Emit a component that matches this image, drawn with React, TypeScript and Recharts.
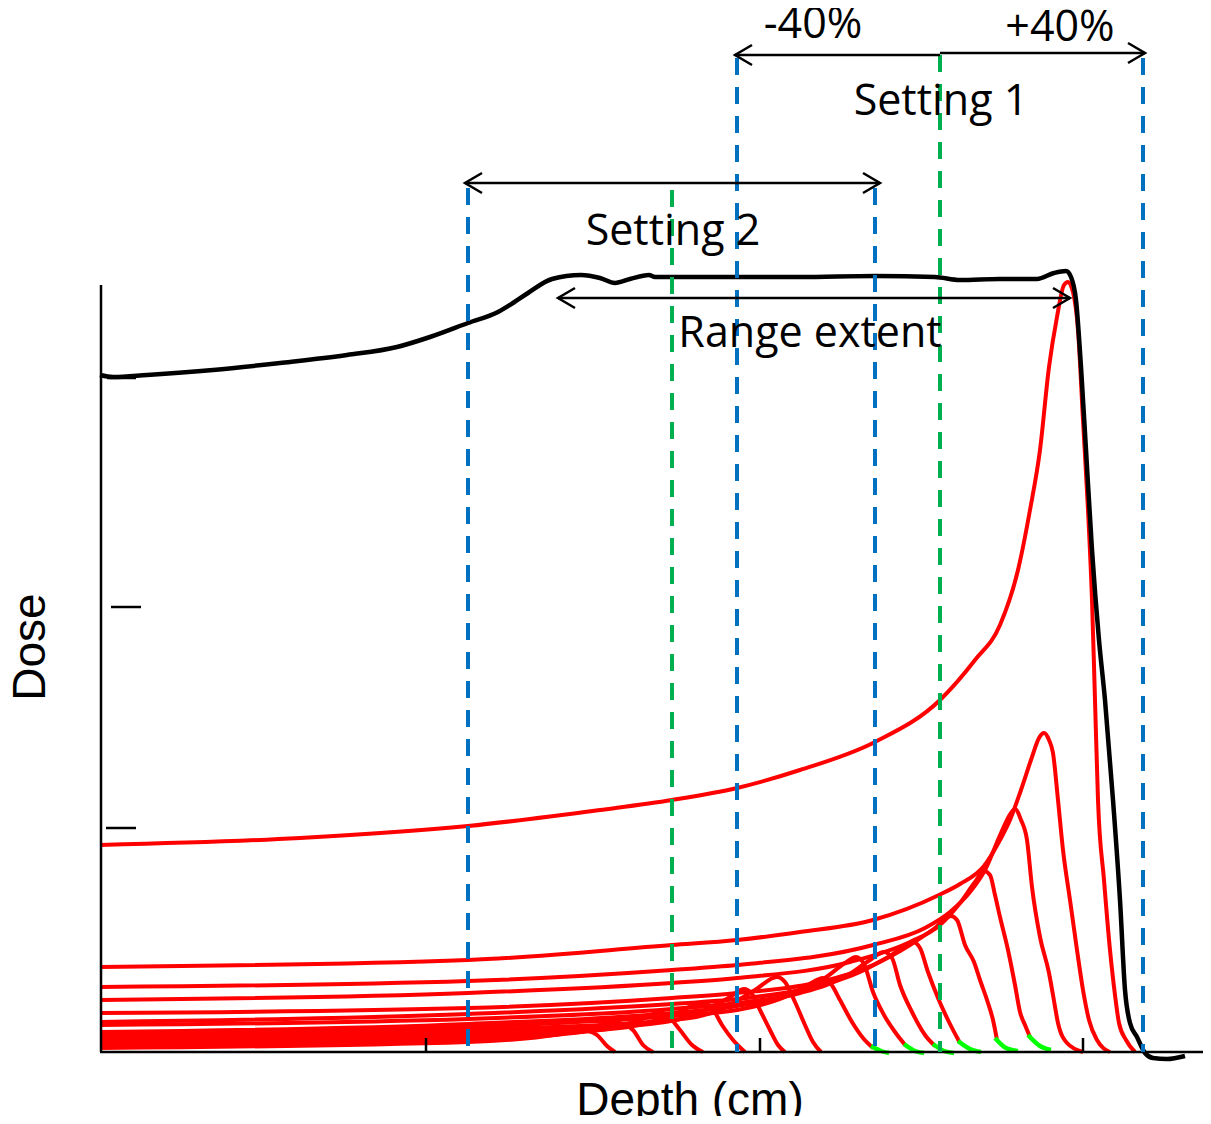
import { LineChart, Line, XAxis, YAxis, ReferenceLine, ReferenceDot } from "recharts"

type Pt = { depth: number; dose: number }
const p = (depth: number, dose: number): Pt => ({ depth, dose })

// total (spread-out) dose
const sobp: Pt[] = [
  p(0, 67.7), p(1.3, 67.5), p(4.7, 67.7), p(11.3, 68.2), p(18.0, 68.9), p(24.7, 69.7), p(29.7, 70.5),
  p(33.0, 71.5), p(36.8, 72.9), p(39.8, 74.0), p(41.3, 74.9), p(42.8, 75.9), p(45.2, 77.3), p(48.1, 77.7),
  p(50.0, 77.4), p(51.5, 76.9), p(53.0, 77.3), p(54.9, 77.7), p(55.5, 77.5), p(60.0, 77.5), p(70.0, 77.5),
  p(77.5, 77.6), p(83.5, 77.5), p(86.0, 77.2), p(90.0, 77.3), p(93.7, 77.3), p(95.4, 77.9), p(96.6, 78.1),
  p(97.1, 77.5), p(97.6, 75.2), p(98.1, 68.5), p(98.6, 60.2), p(99.2, 50.2), p(99.9, 41.2), p(100.5, 35.2),
  p(101.3, 25.2), p(102.0, 15.2), p(102.5, 6.2), p(103.0, 2.9), p(103.7, 1.5), p(104.5, -0.1), p(105.3, -0.6),
  p(106.7, -0.7), p(108.5, -0.4),
]

// pristine Bragg peaks, shallowest first
const bp1: Pt[] = [p(0, 0.4), p(36.8, 1.0), p(46.0, 1.8), p(47.8, 2.4), p(48.5, 2.2), p(49.7, 1.7), p(50.7, 0.6), p(51.5, 0)]
const bp2: Pt[] = [p(0, 0.5), p(36.8, 1.2), p(48.0, 2.0), p(51.5, 3.1), p(52.2, 2.8), p(53.3, 2.2), p(54.3, 0.7), p(55.3, 0)]
const bp3: Pt[] = [p(0, 0.7), p(36.8, 1.4), p(50.0, 2.2), p(54.0, 3.2), p(56.0, 4.0), p(56.8, 3.6), p(58.0, 2.2), p(59.2, 0.7), p(60.3, 0)]
const bp4: Pt[] = [p(0, 0.9), p(36.8, 1.6), p(52.0, 2.4), p(57.0, 3.6), p(60.3, 4.9), p(61.2, 4.4), p(62.2, 2.7), p(63.3, 1.2), p(64.5, 0)]
const bp5: Pt[] = [p(0, 1.2), p(36.8, 1.9), p(55.0, 2.8), p(60.0, 3.9), p(63.0, 5.5), p(64.4, 6.3), p(65.2, 5.8), p(66.0, 4.2), p(67.0, 2.2), p(67.8, 0.7), p(68.5, 0)]
const bp6: Pt[] = [p(0, 1.5), p(36.8, 2.2), p(57.2, 3.2), p(62.0, 4.2), p(65.5, 6.2), p(67.7, 7.5), p(68.5, 7.0), p(69.5, 5.0), p(70.5, 2.7), p(71.3, 1.0), p(72.1, 0)]
const bp7: Pt[] = [p(0, 1.7), p(36.8, 2.5), p(57.2, 3.6), p(63.7, 4.2), p(68.5, 5.5), p(70.8, 6.7), p(72.3, 7.4), p(73.1, 6.8), p(74.0, 5.2), p(75.2, 3.0), p(76.3, 1.4), p(77.3, 0.4)]
const bp8: Pt[] = [p(0, 2.0), p(36.8, 2.8), p(57.2, 3.9), p(63.7, 4.6), p(69.0, 5.7), p(72.5, 7.4), p(74.5, 8.9), p(75.6, 9.5), p(76.4, 8.8), p(77.3, 6.0), p(78.4, 3.7), p(79.5, 2.0), p(80.6, 0.6)]
const bp9: Pt[] = [p(0, 2.7), p(36.8, 3.3), p(57.2, 4.3), p(63.7, 4.9), p(70.0, 5.9), p(74.8, 7.7), p(77.0, 9.2), p(78.4, 10.0), p(79.2, 9.4), p(80.0, 6.7), p(81.2, 4.0), p(82.5, 1.7), p(83.5, 0.6)]
const bp10: Pt[] = [p(0, 3.0), p(36.8, 3.8), p(57.2, 4.8), p(63.7, 5.3), p(70.0, 6.2), p(76.0, 8.0), p(79.0, 9.6), p(81.3, 11.0), p(82.0, 10.4), p(82.8, 8.0), p(83.8, 5.4), p(84.8, 3.2), p(86.0, 0.9)]
const bp11: Pt[] = [p(0, 3.9), p(36.8, 4.4), p(57.2, 5.4), p(63.7, 5.9), p(72.0, 7.0), p(77.3, 8.7), p(81.0, 10.7), p(83.5, 12.4), p(85.1, 13.6), p(85.7, 13.2), p(86.5, 10.7), p(87.4, 9.0), p(88.0, 7.2), p(88.8, 4.9), p(89.3, 3.2), p(89.7, 1.2)]
const bp12: Pt[] = [p(0, 5.2), p(36.8, 5.9), p(57.2, 6.9), p(63.7, 7.4), p(75.0, 9.0), p(81.0, 11.0), p(84.0, 12.7), p(86.0, 14.9), p(87.5, 17.0), p(88.4, 18.1), p(89.0, 17.7), p(89.5, 15.7), p(90.0, 13.5), p(90.8, 10.2), p(91.5, 6.7), p(92.0, 4.0), p(92.5, 2.7), p(93.0, 1.5)]
const bp13: Pt[] = [p(0, 6.5), p(36.8, 7.1), p(57.2, 8.2), p(63.7, 8.7), p(77.3, 10.7), p(82.5, 12.4), p(85.0, 14.0), p(87.0, 16.0), p(88.5, 18.2), p(90.1, 21.9), p(91.1, 23.9), p(91.5, 24.3), p(92.1, 23.2), p(92.7, 21.2), p(93.2, 16.5), p(94.0, 11.5), p(94.9, 7.9), p(95.3, 5.7), p(95.8, 2.9), p(96.7, 0.9), p(98.3, 0)]
const bp14: Pt[] = [p(0, 8.5), p(36.8, 9.2), p(57.2, 10.7), p(63.7, 11.2), p(70.0, 12.0), p(77.3, 13.2), p(83.9, 15.7), p(86.0, 16.8), p(88.4, 18.6), p(90.0, 21.2), p(91.0, 23.2), p(92.1, 26.2), p(93.2, 29.5), p(93.9, 31.4), p(94.4, 31.9), p(94.9, 31.2), p(95.3, 29.9), p(95.8, 25.2), p(96.3, 20.2), p(97.0, 15.2), p(97.7, 10.2), p(98.3, 6.2), p(98.9, 3.2), p(99.7, 1.2), p(101.0, 0)]
const bp15: Pt[] = [
  p(0, 20.7), p(20.0, 21.4), p(36.8, 22.6), p(50.0, 24.2), p(57.2, 25.2), p(63.7, 26.4), p(70.0, 28.2), p(77.5, 31.0),
  p(84.0, 35.2), p(87.5, 39.2), p(90.0, 42.7), p(91.8, 48.2), p(93.0, 54.2), p(94.0, 60.2), p(94.9, 68.5), p(95.7, 73.5),
  p(96.4, 76.7), p(96.8, 77.0), p(97.3, 76.0), p(97.8, 72.2), p(98.3, 63.2), p(98.8, 54.2), p(99.2, 45.2), p(99.5, 35.2),
  p(99.8, 25.2), p(100.4, 17.2), p(101.0, 10.2), p(101.5, 5.7), p(101.9, 2.9), p(102.6, 1.2), p(103.5, 0),
]

// distal tails drawn in green
const tail7: Pt[] = [p(77.1, 0.6), p(78.1, 0.1), p(78.9, -0.1)]
const tail8: Pt[] = [p(80.4, 0.8), p(81.5, 0.1), p(82.4, -0.1)]
const tail9: Pt[] = [p(83.3, 0.8), p(84.4, 0.1), p(85.4, -0.1)]
const tail10: Pt[] = [p(85.8, 1.1), p(87.0, 0.3), p(88.1, 0)]
const tail11: Pt[] = [p(89.5, 1.4), p(90.6, 0.4), p(91.8, 0.1)]
const tail12: Pt[] = [p(92.8, 1.7), p(94.0, 0.6), p(95.1, 0.2)]

const braggPeaks = [bp1, bp2, bp3, bp4, bp5, bp6, bp7, bp8, bp9, bp10, bp11, bp12, bp13, bp14, bp15]
const tails = [tail7, tail8, tail9, tail10, tail11, tail12]

const depthTicks = [32.6, 66.0, 98.3]
const doseMarks = [
  { dose: 67.4, from: 0.7, to: 3.6 },
  { dose: 44.5, from: 1.1, to: 4.1 },
  { dose: 22.4, from: 0.6, to: 3.6 },
]

const blueCuts = [
  { depth: 36.8, top: 86.4 },
  { depth: 63.7, top: 99.4 },
  { depth: 77.5, top: 86.4 },
  { depth: 104.3, top: 99.4 },
]
const greenCuts = [
  { depth: 57.2, top: 86.2 },
  { depth: 84.0, top: 99.7 },
]

const arrows = [
  { from: 84.0, to: 63.5, dose: 99.7, both: false },
  { from: 84.0, to: 104.5, dose: 99.9, both: false },
  { from: 36.5, to: 78.0, dose: 86.9, both: true },
  { from: 45.8, to: 97.0, dose: 75.4, both: true },
]

const notes = [
  { text: "-40%", depth: 71.3, dose: 101.4 },
  { text: "+40%", depth: 96.0, dose: 101.1 },
  { text: "Setting 1", depth: 84.1, dose: 93.7 },
  { text: "Setting 2", depth: 57.3, dose: 80.7 },
  { text: "Range extent", depth: 81.05 - 10.05, dose: 70.5 },
]

const noteFont = "'Open Sans', sans-serif"
const axisFont = "'Liberation Sans', Arial, sans-serif"

const head = (x: number, y: number, d: number) => `M${x + d * 17},${y - 10}L${x},${y}L${x + d * 17},${y + 10}`

const arrowShape = (both: boolean) => (props: any) => {
  const { x1, y1, x2, y2 } = props
  const dir = Math.sign(x2 - x1)
  return (
    <g>
      <line x1={x1} y1={y1} x2={x2} y2={y2} stroke="#000" strokeWidth={2.5} />
      <path d={head(x2, y2, -dir)} fill="none" stroke="#000" strokeWidth={2.5} />
      {both && <path d={head(x1, y1, dir)} fill="none" stroke="#000" strokeWidth={2.5} />}
    </g>
  )
}

export default function App() {
  return (
    <div style={{ margin: -8, width: 1211, height: 1124, background: "#fff" }}>
      <LineChart width={1211} height={1124} margin={{ top: 0, right: 0, left: 100, bottom: 62 }}>
        <XAxis type="number" dataKey="depth" domain={[0, 111.1]} hide />
        <YAxis type="number" domain={[-1, 105.2]} hide />

        {braggPeaks.map((d, i) => (
          <Line key={`bp${i}`} data={d} dataKey="dose" type="monotone" stroke="#ff0000" strokeWidth={4} dot={false} activeDot={false} isAnimationActive={false} />
        ))}
        {tails.map((d, i) => (
          <Line key={`t${i}`} data={d} dataKey="dose" type="monotone" stroke="#00ff00" strokeWidth={4.5} dot={false} activeDot={false} isAnimationActive={false} />
        ))}
        <Line data={sobp} dataKey="dose" type="monotone" stroke="#000" strokeWidth={4.5} dot={false} activeDot={false} isAnimationActive={false} />

        {/* axes */}
        <ReferenceLine segment={[{ x: 0, y: 0 }, { x: 111.1, y: 0 }]} stroke="#000" strokeWidth={2.5} />
        <ReferenceLine segment={[{ x: 0.1, y: 0 }, { x: 0.1, y: 76.7 }]} stroke="#000" strokeWidth={2.5} />
        {depthTicks.map((t) => (
          <ReferenceLine key={`dt${t}`} segment={[{ x: t, y: 0 }, { x: t, y: 1.4 }]} stroke="#000" strokeWidth={2.5} />
        ))}
        {doseMarks.map((m) => (
          <ReferenceLine key={`dm${m.dose}`} segment={[{ x: m.from, y: m.dose }, { x: m.to, y: m.dose }]} stroke="#000" strokeWidth={2.5} />
        ))}

        {blueCuts.map((c) => (
          <ReferenceLine key={`b${c.depth}`} segment={[{ x: c.depth, y: c.top }, { x: c.depth, y: 0 }]} stroke="#0070c0" strokeWidth={4} strokeDasharray="17 12" />
        ))}
        {greenCuts.map((c) => (
          <ReferenceLine key={`g${c.depth}`} segment={[{ x: c.depth, y: c.top }, { x: c.depth, y: 0 }]} stroke="#00b050" strokeWidth={4} strokeDasharray="17 12" />
        ))}

        {arrows.map((a, i) => (
          <ReferenceLine key={`a${i}`} segment={[{ x: a.from, y: a.dose }, { x: a.to, y: a.dose }]} shape={arrowShape(a.both)} />
        ))}

        {notes.map((n) => (
          <ReferenceDot
            key={n.text}
            x={n.depth}
            y={n.dose}
            r={0}
            shape={(props: any) => (
              <text x={props.cx} y={props.cy} textAnchor="middle" fontFamily={noteFont} fontSize={43} fill="#000">
                {n.text}
              </text>
            )}
          />
        ))}

        <ReferenceDot
          x={59.0}
          y={-6.3}
          r={0}
          ifOverflow="visible"
          shape={(props: any) => (
            <text x={props.cx} y={props.cy} textAnchor="middle" fontFamily={axisFont} fontSize={46} fill="#000">
              Depth (cm)
            </text>
          )}
        />
        <ReferenceDot
          x={-5.5}
          y={40.5}
          r={0}
          ifOverflow="visible"
          shape={(props: any) => (
            <text
              x={props.cx}
              y={props.cy}
              transform={`rotate(-90 ${props.cx} ${props.cy})`}
              textAnchor="middle"
              fontFamily={axisFont}
              fontSize={46}
              fill="#000"
            >
              Dose
            </text>
          )}
        />
      </LineChart>
    </div>
  )
}
